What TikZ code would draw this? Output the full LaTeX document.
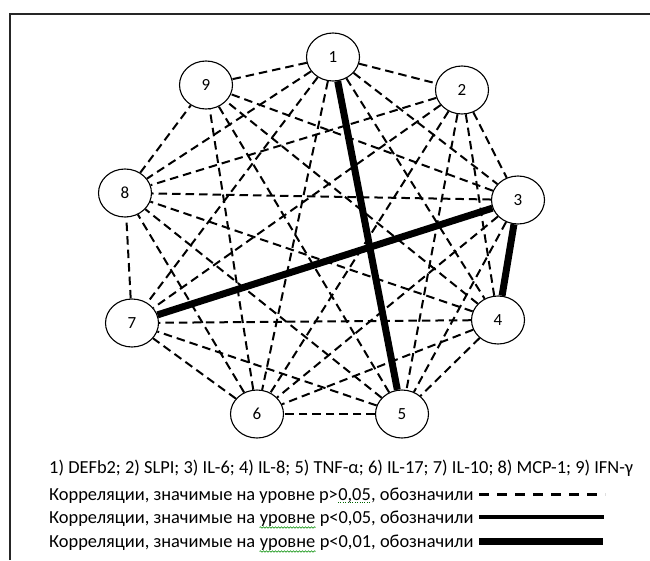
\documentclass[tikz,border=0pt]{standalone}
\usepackage{fontspec}
\setmainfont{Carlito}
\usetikzlibrary{shapes.geometric,decorations.pathmorphing}

\tikzset{
  marker/.style = {draw, ellipse, fill = white, line width = 1.1pt, minimum width = 53pt, minimum height = 48pt, inner sep = 0pt, font = \fontsize{17}{20}\selectfont},
  weak/.style = {line width = 2pt, dash pattern = on 8.5pt off 5pt},
  sig/.style = {line width = 4pt},
  strong/.style = {line width = 7pt},
  keytext/.style = {anchor = base west, inner sep = 0pt, font = \fontsize{18.4}{22}\selectfont},
  wavy/.style = {green!55!black, line width = .6pt, decorate, decoration = {snake, segment length = 3pt, amplitude = .8pt}},
  dotty/.style = {green!40!black, line width = .8pt, dash pattern = on .8pt off 1.6pt}
}

\begin{document}
\begin{tikzpicture}[x = 1pt, y = -1pt]
\useasboundingbox (0,0) rectangle (650,560);
\draw[line width = 2pt, black!85] (10,560) -- (10,14) -- (650,14);
% the nine markers
\node[marker] (n1) at (333,57) {1};
\node[marker] (n2) at (462,90) {2};
\node[marker] (n3) at (518,200) {3};
\node[marker] (n4) at (498,320) {4};
\node[marker] (n5) at (402,414) {5};
\node[marker] (n6) at (257,414) {6};
\node[marker] (n7) at (132,323) {7};
\node[marker] (n8) at (125,193) {8};
\node[marker] (n9) at (206,85) {9};
% correlations
\foreach \a/\b in {1/2,1/3,1/4,1/6,1/7,1/8,1/9,2/3,2/4,2/5,2/6,2/7,2/8,3/5,3/6,3/8,3/9,4/5,4/6,4/7,4/8,4/9,5/6,5/7,5/8,5/9,6/7,6/8,6/9,7/8,8/9}
  \draw[weak] (n\a) -- (n\b);
\draw[strong] (n1) -- (n5);
\draw[strong] (n3) -- (n7);
\draw[strong] (n3) -- (n4);
% key
\node[keytext] (names) at (49,473) {1) DEFb2; 2) SLPI; 3) IL-6; 4) IL-8; 5) TNF-α; 6) IL-17; 7) IL-10; 8) MCP-1; 9) IFN-γ};
\node[keytext] (k1) at (49,500) {Корреляции, значимые на уровне p>};
\node[keytext] (k1w) at (k1.base east) {0,05};
\node[keytext] (k1e) at (k1w.base east) {, обозначили};
\node[keytext] (k2) at (49,523) {Корреляции, значимые на\ \mbox{}};
\node[keytext] (k2w) at (k2.base east) {уровне};
\node[keytext] (k2e) at (k2w.base east) {\ p<0,05, обозначили};
\node[keytext] (k3) at (49,547) {Корреляции, значимые на\ \mbox{}};
\node[keytext] (k3w) at (k3.base east) {уровне};
\node[keytext] (k3e) at (k3w.base east) {\ p<0,01, обозначили};
\draw[dotty] ([yshift = -2pt]k1w.base west) -- ([yshift = -2pt]k1w.base east);
\draw[wavy] ([yshift = -4.5pt]k2w.base west) -- ([yshift = -4.5pt]k2w.base east);
\draw[wavy] ([yshift = -4.5pt]k3w.base west) -- ([yshift = -4.5pt]k3w.base east);
\coordinate (a1) at (479,494); \coordinate (b1) at (605,494);
\coordinate (a2) at (479,517); \coordinate (b2) at (604,517);
\coordinate (a3) at (479,541); \coordinate (b3) at (603,541);
\draw[line width = 3pt, dash pattern = on 10pt off 8pt] (a1) -- (b1);
\draw[sig] (a2) -- (b2);
\draw[strong] (a3) -- (b3);
\end{tikzpicture}
\end{document}
